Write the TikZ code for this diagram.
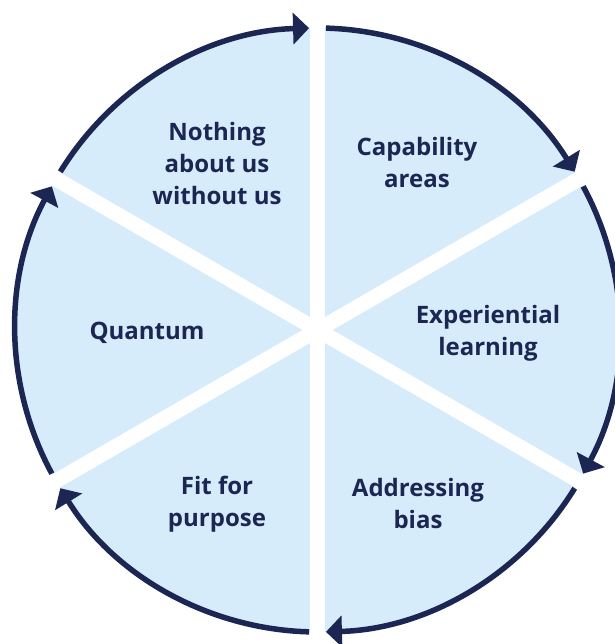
\documentclass[tikz,border=0pt]{standalone}
\usepackage{fontspec}
\setmainfont{Open Sans}
\usetikzlibrary{arrows.meta}
\definecolor{navy}{HTML}{1B2653}
\definecolor{paleblue}{HTML}{D6ECFA}
\tikzset{
  lbl/.style={font=\bfseries\fontsize{24}{32}\selectfont, text=navy, align=center, inner sep=0pt},
  ring/.style={draw=navy, line width=5.5pt, -{Triangle[length=16pt,width=31pt]}},
  spoke/.style={draw=white, line width=15pt}
}
\begin{document}
\begin{tikzpicture}[x=1pt,y=1pt]
\useasboundingbox (0,0) rectangle (614,644);
\coordinate (c) at (317.5,314);
\fill[paleblue] (c) circle[radius=302];
% white spokes
\foreach \a in {90,30,-30}{
  \path (c) ++(\a:320) coordinate (p\a) (c) ++(\a+180:320) coordinate (q\a);
  \draw[spoke] (p\a) -- (q\a);
}
% arcs with arrows (clockwise)
\foreach \s/\e in {90/30,30/-30,-30/-90,-90/-150,-150/-210,-210/-270}{
  \draw[ring] (c) ++(\s-1.6:302) arc[start angle=\s-1.6, end angle=\e+1.6, radius=302];
}
% labels
\node[lbl] (n1) at (217,480) {Nothing\\about us\\without us};
\node[lbl] (n2) at (417,481) {Capability\\areas};
\node[lbl] (n3) at (488,311) {Experiential\\learning};
\node[lbl] (n4) at (418,140) {Addressing\\bias};
\node[lbl] (n5) at (217,140) {Fit for\\purpose};
\node[lbl] (n6) at (147,311) {Quantum};
\end{tikzpicture}
\end{document}
